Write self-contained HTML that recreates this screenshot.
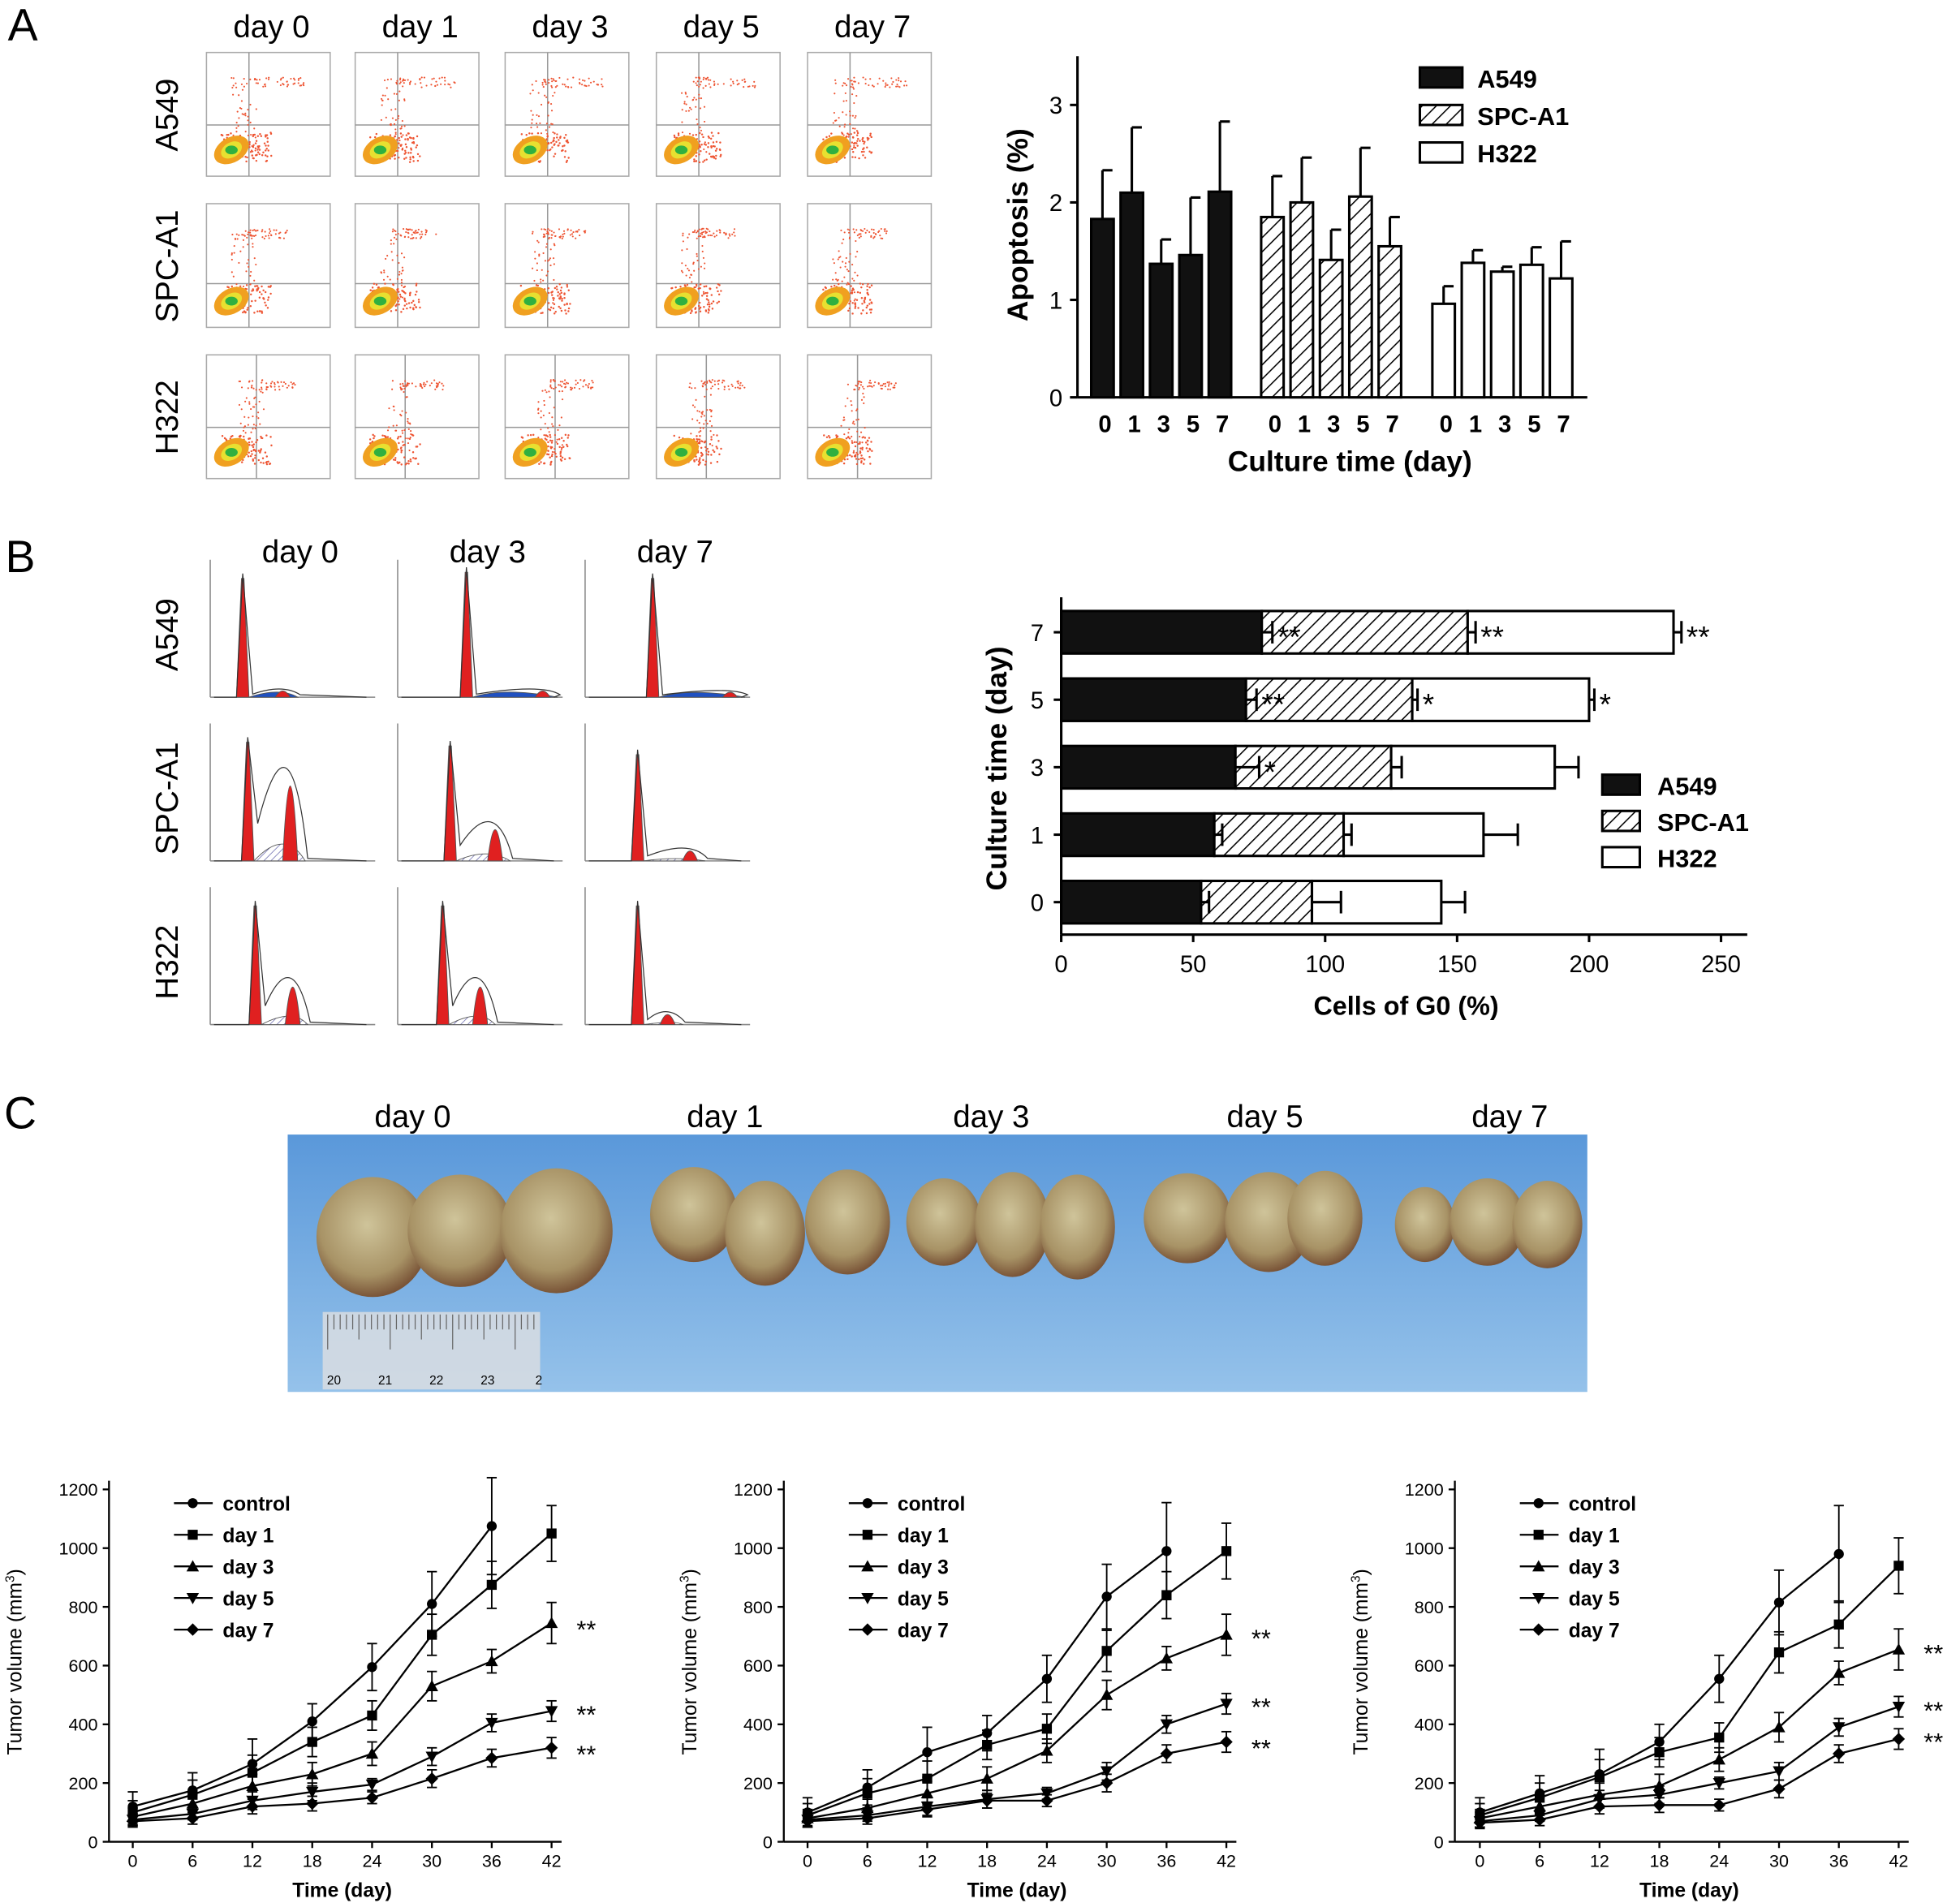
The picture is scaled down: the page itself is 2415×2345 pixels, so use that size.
<!DOCTYPE html>
<html><head><meta charset="utf-8"><style>
html,body{margin:0;padding:0;background:#fff}
svg{display:block}
text{font-family:"Liberation Sans",Arial,sans-serif}
</style></head><body>
<svg id="s" width="2415" height="2345" viewBox="0 0 1568 1523" xmlns="http://www.w3.org/2000/svg">
<defs>
<pattern id="hatch" patternUnits="userSpaceOnUse" width="8" height="8" patternTransform="rotate(45)"><rect width="8" height="8" fill="#fff"/><line x1="0" y1="0" x2="0" y2="8" stroke="#000" stroke-width="2"/></pattern>
<pattern id="hatch2" patternUnits="userSpaceOnUse" width="4" height="4" patternTransform="rotate(45)"><rect width="4" height="4" fill="#fff"/><line x1="0" y1="0" x2="0" y2="4" stroke="#6a6ab0" stroke-width="1"/></pattern>
<linearGradient id="photo" x1="0" y1="0" x2="0" y2="1"><stop offset="0" stop-color="#5a98da"/><stop offset="1" stop-color="#95c2ea"/></linearGradient>
<radialGradient id="tum" cx="0.45" cy="0.4" r="0.6"><stop offset="0" stop-color="#cfc49a"/><stop offset="0.7" stop-color="#a89366"/><stop offset="1" stop-color="#7a5538"/></radialGradient>
</defs>
<g id="root"></g>
</svg>
<script>
// ---------- data ----------
const apoDays=["0","1","3","5","7"];
const apoA549=[1.83,2.1,1.37,1.46,2.11];
const apoA549Err=[0.5,0.67,0.25,0.59,0.72];
const apoSPC=[1.85,2.0,1.41,2.06,1.55];
const apoSPCErr=[0.42,0.46,0.31,0.5,0.3];
const apoH322=[0.96,1.38,1.29,1.36,1.22];
const apoH322Err=[0.18,0.13,0.05,0.18,0.38];
const apoTicks=[0,1,2,3];

const g0Cats=["7","5","3","1","0"];
const g0A549=[76,70,66,58,53];
const g0A549Err=[4,4,9,3,3];
const g0SPC=[78,63,59,49,42];
const g0SPCErr=[3,2,4,3,11];
const g0H322=[78,67,62,53,49];
const g0H322Err=[3,2,9,13,9];
const g0StarsA=["**","**","*","",""];
const g0StarsS=["**","*","","",""];
const g0StarsH=["**","*","","",""];
const g0Ticks=[0,50,100,150,200,250];

const times=[0,6,12,18,24,30,36,42];
const volTicks=[0,200,400,600,800,1000,1200];
const seriesNames=["control","day 1","day 3","day 5","day 7"];
const c1Control=[120,175,265,410,595,810,1075];
const c1Day1=[100,160,235,340,430,705,875,1050];
const c1Day3=[85,130,190,230,300,530,615,745];
const c1Day5=[75,95,140,170,195,290,405,445];
const c1Day7=[70,80,120,130,150,215,285,320];
const c1ErrC=[50,60,85,60,80,110,165];
const c1Err1=[40,50,60,50,50,70,80,95];
const c1Err3=[30,30,40,40,40,50,40,70];
const c1Err5=[20,20,30,30,20,30,30,35];
const c1Err7=[20,20,25,25,20,30,30,35];
const c2Control=[100,185,305,370,555,835,990];
const c2Day1=[90,165,215,330,385,650,840,990];
const c2Day3=[80,115,165,215,310,500,625,705];
const c2Day5=[75,90,120,145,165,240,400,470];
const c2Day7=[70,80,110,140,140,200,300,340];
const c3Control=[100,165,230,340,555,815,980];
const c3Day1=[90,150,220,305,355,645,740,940];
const c3Day3=[80,120,160,190,280,390,575,655];
const c3Day5=[70,90,145,160,200,240,390,460];
const c3Day7=[65,75,120,125,125,180,300,350];

// ---------- helpers ----------
const NS="http://www.w3.org/2000/svg";
const root=document.getElementById('root');
function mk(tag,attrs,parent,txt){const e=document.createElementNS(NS,tag);for(const k in attrs)e.setAttribute(k,attrs[k]);if(txt!==undefined)e.textContent=txt;(parent||root).appendChild(e);return e;}
function grp(name,parent){const g=mk('g',{},parent);


return g;}
function txt(p,x,y,s,size,anchor,weight,name,rot){const t=mk('text',{x:x,y:y,'font-size':size,'text-anchor':anchor||'middle','font-weight':weight||'normal'},p,s);
if(rot)t.setAttribute('transform','rotate(-90 '+x+' '+y+')');


return t;}

txt(root,18,32,"A",36,'middle','normal','panel-label-a');
txt(root,16,458,"B",36,'middle','normal','panel-label-b');
txt(root,16,903,"C",36,'middle','normal','panel-label-c');

// ---------- Panel A flow plots ----------
const flowG=grp('flow-cytometry-grid');
const fcx=[165,284,404,525,646], fry=[42,163,284], fdays=["day 0","day 1","day 3","day 5","day 7"], frows=["A549","SPC-A1","H322"];
fdays.forEach((d,i)=>txt(flowG,fcx[i]+52,30,d,25,'middle','normal','flow-day-label'));
frows.forEach((r,j)=>txt(flowG,142,fry[j]+50,r,25,'middle','normal','flow-row-label',true));
let seed=7;function rnd(){seed=(seed*16807)%2147483647;return seed/2147483647;}
fry.forEach((y,j)=>fcx.forEach((x,i)=>{
 const c=grp('flow-plot',flowG);
 mk('rect',{x:x,y:y,width:99,height:99,fill:'#fff',stroke:'#aaa','stroke-width':1},c);
 const vx=x+34+(j==2?6:0), hy=y+(j==1?64:58);
 mk('line',{x1:vx,y1:y,x2:vx,y2:y+99,stroke:'#999','stroke-width':1},c);
 mk('line',{x1:x,y1:hy,x2:x+99,y2:hy,stroke:'#999','stroke-width':1},c);
 const cx=x+20, cy=y+78;
 for(let k=0;k<90;k++){const a=rnd(),b=rnd();mk('circle',{cx:cx-8+a*40,cy:cy+10-b*24,r:0.8,fill:'#e53'},c);}
 for(let k=0;k<50;k++){mk('circle',{cx:vx-14+rnd()*20,cy:y+20+rnd()*60,r:0.7,fill:'#e53'},c);}
 for(let k=0;k<40;k++){mk('circle',{cx:vx-4+rnd()*(j==0?50:35),cy:y+20+rnd()*8,r:0.7,fill:'#e53'},c);}
 mk('ellipse',{cx:cx,cy:cy,rx:15,ry:10,fill:'#f0a020',transform:'rotate(-30 '+cx+' '+cy+')'},c);
 mk('ellipse',{cx:cx,cy:cy,rx:9,ry:6,fill:'#e8e030',transform:'rotate(-30 '+cx+' '+cy+')'},c);
 mk('ellipse',{cx:cx,cy:cy,rx:5,ry:3.5,fill:'#30b040'},c);
}));

// ---------- Panel A bar chart ----------
(function(){
 const g=grp('apoptosis-chart');
 const X0=862,Y0=318,perU=78;
 const y=v=>Y0-v*perU;
 mk('line',{x1:X0,y1:45,x2:X0,y2:Y0,stroke:'#000','stroke-width':2},g);
 mk('line',{x1:X0,y1:Y0,x2:1270,y2:Y0,stroke:'#000','stroke-width':2},g);
 apoTicks.forEach(t=>{mk('line',{x1:X0-6,y1:y(t),x2:X0,y2:y(t),stroke:'#000','stroke-width':2},g);txt(g,X0-12,y(t)+7,String(t),19,'end','normal','y-tick-label');});
 const groups=[[apoA549,apoA549Err,'#111',873],[apoSPC,apoSPCErr,'url(#hatch)',1009],[apoH322,apoH322Err,'#fff',1146]];
 groups.forEach(([vals,errs,fill,gx])=>{
  vals.forEach((v,i)=>{
   const bx=gx+i*23.5;
   const r=mk('rect',{x:bx,y:y(v),width:18,height:v*perU,fill:fill,stroke:'#000','stroke-width':2},g);
   
   
   mk('line',{x1:bx+9,y1:y(v),x2:bx+9,y2:y(v+errs[i]),stroke:'#000','stroke-width':2},g);
   mk('line',{x1:bx+9,y1:y(v+errs[i]),x2:bx+17,y2:y(v+errs[i]),stroke:'#000','stroke-width':2},g);
   txt(g,bx+11,346,apoDays[i],19,'middle','bold','x-tick-label');
  });
 });
 txt(g,1080,377,"Culture time (day)",23,'middle','bold','x-axis-title');
 txt(g,822,180,"Apoptosis (%)",23,'middle','bold','y-axis-title',true);
 [['#111','A549'],['url(#hatch)','SPC-A1'],['#fff','H322']].forEach(([f,l],k)=>{
  const e=grp('legend-entry',g);
  mk('rect',{x:1136,y:54+k*30,width:34,height:16,fill:f,stroke:'#000','stroke-width':2},e);
  txt(e,1182,70+k*30,l,20,'start','bold','legend-text');
 });
})();

// ---------- Panel B histograms ----------
(function(){
 const g=grp('cell-cycle-histograms');
 const cx=[168,318,468], base=[558,689,820], days=["day 0","day 3","day 7"], rows=["A549","SPC-A1","H322"];
 days.forEach((d,i)=>txt(g,cx[i]+72,450,d,25,'middle','normal','hist-day-label'));
 rows.forEach((r,j)=>txt(g,142,base[j]-50,r,25,'middle','normal','hist-row-label',true));
 const peakX=[[26,55,54],[30,42,42],[36,36,42]];
 const peakH=[[95,100,95],[95,92,85],[95,95,95]];
 const bump=[[[52,5],[110,5],[110,4]],[[58,60],[72,25],[78,8]],[[60,30],[60,30],[60,8]]];
 rows.forEach((r,j)=>cx.forEach((x,i)=>{
  const h=grp('histogram',g), b=base[j];
  mk('line',{x1:x,y1:b-110,x2:x,y2:b,stroke:'#888','stroke-width':1},h);
  mk('line',{x1:x,y1:b,x2:x+132,y2:b,stroke:'#888','stroke-width':1},h);
  const px=x+peakX[j][i], ph=peakH[j][i], [bx,bh]=bump[j][i];
  mk('path',{d:`M${px+5} ${b} Q${px+30} ${b-bh*0.45-(j==0?6:0)} ${x+bx+18} ${b} Z`,fill:j==0?'#2050c0':'url(#hatch2)',stroke:'#555','stroke-width':0.6},h);
  mk('path',{d:`M${px-5} ${b} L${px-1} ${b-ph} L${px+1} ${b-ph} L${px+5} ${b} Z`,fill:'#e02020',stroke:'#555','stroke-width':0.6},h);
  mk('path',{d:`M${x+bx} ${b} Q${x+bx+6} ${b-bh*2} ${x+bx+12} ${b} Z`,fill:'#e02020',stroke:'#555','stroke-width':0.6},h);
  mk('path',{d:`M${x+3} ${b} L${px-5} ${b} L${px} ${b-ph-4} L${px+8} ${b-bh*0.5} Q${x+bx+6} ${b-bh*2.2} ${x+bx+20} ${b-2} L${x+125} ${b}`,fill:'none',stroke:'#333','stroke-width':0.8},h);
 }));
})();

// ---------- Panel B horizontal stacked bar ----------
(function(){
 const g=grp('g0-chart');
 const X0=849,Y0=748,perU=2.112;
 const x=v=>X0+v*perU;
 const cy=[506,560,614,668,722];
 mk('line',{x1:X0,y1:478,x2:X0,y2:Y0,stroke:'#000','stroke-width':2},g);
 mk('line',{x1:X0,y1:Y0,x2:1398,y2:Y0,stroke:'#000','stroke-width':2},g);
 g0Ticks.forEach(t=>{mk('line',{x1:x(t),y1:Y0,x2:x(t),y2:Y0+6,stroke:'#000','stroke-width':2},g);txt(g,x(t),Y0+30,String(t),19,'middle','normal','x-tick-label');});
 const later=[];
 g0Cats.forEach((c,i)=>{
  const yc=cy[i];
  mk('line',{x1:X0-6,y1:yc,x2:X0,y2:yc,stroke:'#000','stroke-width':2},g);
  txt(g,X0-14,yc+7,c,19,'end','normal','y-tick-label');
  let s=0;
  [[g0A549,g0A549Err,'#111',g0StarsA],[g0SPC,g0SPCErr,'url(#hatch)',g0StarsS],[g0H322,g0H322Err,'#fff',g0StarsH]].forEach(([vals,errs,f,st])=>{
   const v=vals[i];
   const r=mk('rect',{x:x(s),y:yc-17,width:v*perU,height:34,fill:f,stroke:'#000','stroke-width':2},g);
   
   
   s+=v;
   later.push([s,s+errs[i],yc,st[i]]);
  });
 });
 later.forEach(([s,e,yc,st])=>{
   mk('line',{x1:x(s),y1:yc,x2:x(e),y2:yc,stroke:'#000','stroke-width':2},g);
   mk('line',{x1:x(e),y1:yc-9,x2:x(e),y2:yc+9,stroke:'#000','stroke-width':2},g);
   if(st)txt(g,x(e)+4,yc+12,st,24,'start','normal','significance-stars');
 });
 txt(g,1125,812,"Cells of G0 (%)",21,'middle','bold','x-axis-title');
 txt(g,805,615,"Culture time (day)",23,'middle','bold','y-axis-title',true);
 [['#111','A549'],['url(#hatch)','SPC-A1'],['#fff','H322']].forEach(([f,l],k)=>{
  const e=grp('legend-entry',g);
  mk('rect',{x:1282,y:620+k*29,width:30,height:16,fill:f,stroke:'#000','stroke-width':2},e);
  txt(e,1326,636+k*29,l,20,'start','bold','legend-text');
 });
})();

// ---------- Panel C photo ----------
(function(){
 const g=grp('tumor-photo');
 [["day 0",330],["day 1",580],["day 3",793],["day 5",1012],["day 7",1208]].forEach(([d,x])=>txt(g,x,902,d,25,'middle','normal','photo-day-label'));
 mk('rect',{x:230,y:908,width:1040,height:206,fill:'url(#photo)'},g);
 const tumors=[[298,990,45,48],[368,985,42,45],[445,985,45,50],[555,972,35,38],[612,987,32,42],[678,978,34,42],[755,978,30,35],[810,980,30,42],[862,982,30,42],[950,975,35,36],[1015,978,35,40],[1060,975,30,38],[1140,980,24,30],[1190,978,30,35],[1238,980,28,35]];
 tumors.forEach(([x,y,rx,ry])=>{const t=mk('ellipse',{cx:x,cy:y,rx:rx,ry:ry,fill:'url(#tum)'},g);
  
  });
 mk('rect',{x:258,y:1050,width:174,height:62,fill:'#d9dde2',opacity:0.85},g);
 for(let k=0;k<34;k++)mk('line',{x1:262+k*5,y1:1052,x2:262+k*5,y2:k%10==0?1080:(k%5==0?1072:1064),stroke:'#666','stroke-width':0.8},g);
 ["20","21","22","23","2"].forEach((l,k)=>txt(g,267+k*41,1108,l,10,'middle','normal','ruler-label'));
})();

// ---------- line charts ----------
function lineChart(name,yAxisX,x0,data,errs,stars){
 const g=grp(name);
 const Y0=1474,perU=0.235,perD=7.98;
 const X=t=>x0+t*perD, Y=v=>Y0-v*perU;
 mk('line',{x1:yAxisX,y1:1185,x2:yAxisX,y2:Y0,stroke:'#000','stroke-width':1.5},g);
 mk('line',{x1:yAxisX,y1:Y0,x2:X(42)+8,y2:Y0,stroke:'#000','stroke-width':1.5},g);
 volTicks.forEach(t=>{mk('line',{x1:yAxisX-5,y1:Y(t),x2:yAxisX,y2:Y(t),stroke:'#000','stroke-width':1.5},g);txt(g,yAxisX-9,Y(t)+5,String(t),14,'end','normal','y-tick-label');});
 times.forEach(t=>{mk('line',{x1:X(t),y1:Y0,x2:X(t),y2:Y0+5,stroke:'#000','stroke-width':1.5},g);txt(g,X(t),Y0+20,String(t),14,'middle','normal','x-tick-label');});
 txt(g,(x0+X(42))/2,1518,"Time (day)",16,'middle','bold','x-axis-title');
 const yt=txt(g,yAxisX-70,1330,"",16,'middle','normal','y-axis-title',true);
 yt.innerHTML='Tumor volume (mm<tspan dy="-6" font-size="10">3</tspan><tspan dy="6">)</tspan>';
 function marker(p,i,x,y){
  if(i==0)return mk('circle',{cx:x,cy:y,r:4,fill:'#000'},p);
  if(i==1)return mk('rect',{x:x-4,y:y-4,width:8,height:8,fill:'#000'},p);
  if(i==2)return mk('path',{d:`M${x} ${y-5} L${x+5} ${y+4} L${x-5} ${y+4}Z`,fill:'#000'},p);
  if(i==3)return mk('path',{d:`M${x} ${y+5} L${x+5} ${y-4} L${x-5} ${y-4}Z`,fill:'#000'},p);
  return mk('path',{d:`M${x} ${y-5} L${x+5} ${y} L${x} ${y+5} L${x-5} ${y}Z`,fill:'#000'},p);
 }
 data.forEach((vals,i)=>{
  const s=grp('series-'+seriesNames[i].replace(' ','-'),g);
  mk('polyline',{points:vals.map((v,k)=>X(times[k])+','+Y(v)).join(' '),fill:'none',stroke:'#000','stroke-width':1.5},s);
  vals.forEach((v,k)=>{
   const e=errs[i][k],x=X(times[k]);
   mk('line',{x1:x,y1:Y(v-e),x2:x,y2:Y(v+e),stroke:'#000','stroke-width':1.2},s);
   mk('line',{x1:x-4,y1:Y(v+e),x2:x+4,y2:Y(v+e),stroke:'#000','stroke-width':1.2},s);
   mk('line',{x1:x-4,y1:Y(v-e),x2:x+4,y2:Y(v-e),stroke:'#000','stroke-width':1.2},s);
   const m=marker(s,i,x,Y(v));
   
   
  });
  const le=grp('legend-entry',g), ly=1203+i*25.3, lx=yAxisX+52;
  mk('line',{x1:lx,y1:ly,x2:lx+31,y2:ly,stroke:'#000','stroke-width':1.5},le);
  marker(le,i,lx+15,ly);
  txt(le,lx+39,ly+6,seriesNames[i],16,'start','bold','legend-text');
 });
 stars.forEach(y=>txt(g,X(42)+20,y+10,"**",20,'start','normal','significance-stars'));
}
lineChart('tumor-volume-chart-1',87,106,[c1Control,c1Day1,c1Day3,c1Day5,c1Day7],[c1ErrC,c1Err1,c1Err3,c1Err5,c1Err7],[1301,1369,1401]);
lineChart('tumor-volume-chart-2',627,646,[c2Control,c2Day1,c2Day3,c2Day5,c2Day7],[c1ErrC,c1Err1,c1Err3,c1Err5,c1Err7],[1308,1363,1396]);
lineChart('tumor-volume-chart-3',1164,1184,[c3Control,c3Day1,c3Day3,c3Day5,c3Day7],[c1ErrC,c1Err1,c1Err3,c1Err5,c1Err7],[1320,1366,1391]);
</script>
</body></html>
